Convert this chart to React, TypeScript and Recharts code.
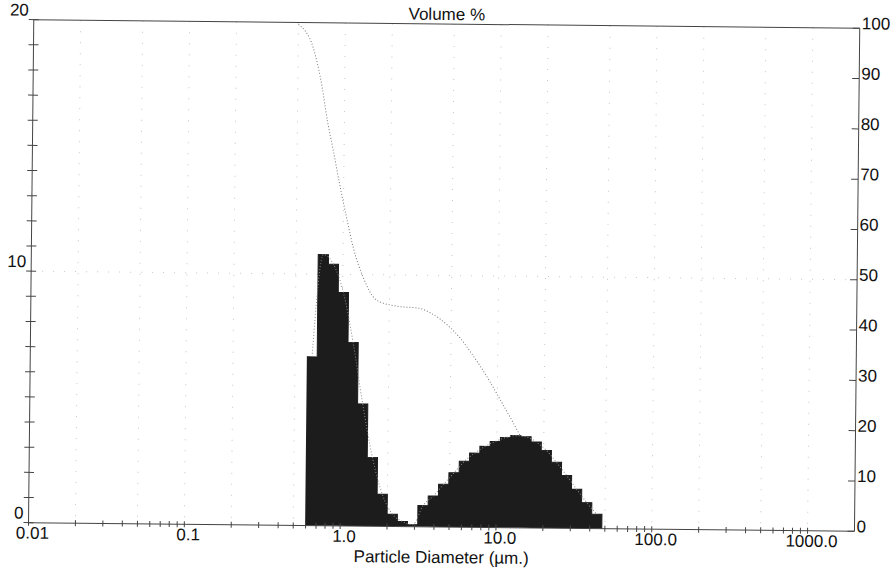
import React from 'react';
import { ComposedChart, Area, Line, XAxis, YAxis, CartesianGrid } from 'recharts';

// channel lower edges (µm) – last value closes the final channel
const binEdges = [
  0.596, 0.694, 0.808, 0.938, 1.092, 1.27, 1.477, 1.719, 1.999, 2.326,
  2.705, 3.146, 3.659, 4.256, 4.95, 5.758, 6.698, 7.791, 9.063, 10.54,
  12.26, 14.27, 16.59, 19.3, 22.44, 26.11, 30.36, 35.32, 41.09, 47.79,
];
// volume % in each channel
const volumePct = [
  6.71, 10.78, 10.4, 9.28, 7.3, 4.86, 2.74, 1.28, 0.49, 0.2,
  0.08, 0.84, 1.23, 1.7, 2.16, 2.62, 2.95, 3.22, 3.42, 3.58,
  3.66, 3.62, 3.42, 3.09, 2.62, 2.1, 1.56, 1.03, 0.57,
];

// cumulative volume % above each diameter
const cumDiameter = [
  0.5, 0.624, 0.717, 0.777, 0.853, 0.951, 1.059, 1.162, 1.355, 1.665,
  2.237, 3.146, 3.659, 4.256, 4.95, 5.758, 6.698, 7.791, 9.063, 10.54,
  12.26, 14.27, 16.59, 19.3, 22.44, 26.11, 30.36, 35.32, 41.09, 47.79,
];
const cumOversize = [
  99.6, 95.0, 87.1, 80.6, 74.6, 67.3, 60.7, 55.4, 49.4, 44.9,
  43.8, 43.4, 42.55, 41.3, 39.6, 37.5, 34.8, 31.9, 28.7, 25.2,
  21.7, 18.0, 14.4, 11.0, 7.9, 5.3, 3.2, 1.6, 0.57, 0,
];

const decades = [0.01, 0.1, 1, 10, 100, 1000];
const decadeLabels = ['0.01', '0.1', '1.0', '10.0', '100.0', '1000.0'];
const minorSteps = [1, 2, 3, 4, 5, 6, 7, 8, 9];
const gridDiameters = [0.02, 0.05, 0.1, 0.2, 0.5, 1, 2, 5, 10, 20, 50, 100, 200, 500, 1000];
const volumeTicks = [0, 1, 2, 3, 4, 5, 6, 7, 8, 9, 10, 11, 12, 13, 14, 15, 16, 17, 18, 19, 20];
const volumeLabels = [0, 10, 20];
const cumulativeTicks = [0, 10, 20, 30, 40, 50, 60, 70, 80, 90, 100];

const logTicks = decades
  .flatMap((d) => minorSteps.map((m) => +(d * m).toPrecision(3)))
  .filter((v) => v <= 1000);

const histogram = [
  ...volumePct.map((v, i) => ({ d: binEdges[i], v })),
  { d: binEdges[binEdges.length - 1], v: 0 },
];
const freqCurve = volumePct.map((v, i) => ({ d: Math.sqrt(binEdges[i] * binEdges[i + 1]), v }));
const cumulative = cumDiameter.map((d, i) => ({ d, c: cumOversize[i] }));

const AXIS = '#444';
const INK = '#111';
const FONT = 17;

const BottomTick = ({ x, y, payload }: any) => {
  const i = decades.indexOf(payload.value);
  return (
    <g>
      <line x1={x} x2={x} y1={y - 3} y2={y + 3} stroke={AXIS} />
      {i >= 0 && (
        <text x={x + 4} y={y + 16} textAnchor="middle" fontSize={FONT} fill={INK}>
          {decadeLabels[i]}
        </text>
      )}
    </g>
  );
};

const TopTick = ({ x, y }: any) => <line x1={x} x2={x} y1={y - 3} y2={y + 3} stroke={AXIS} />;

const LeftTick = ({ x, y, payload }: any) => (
  <g>
    <line x1={x - 5} x2={x + 5} y1={y} y2={y} stroke={AXIS} />
    {volumeLabels.includes(payload.value) && (
      <text x={x - 5} y={y - 4} textAnchor="end" fontSize={FONT} fill={INK}>
        {payload.value}
      </text>
    )}
  </g>
);

const RightTick = ({ x, y, payload }: any) => (
  <g>
    <line x1={x - 7} x2={x} y1={y} y2={y} stroke={AXIS} />
    <text x={x + 2} y={y + 1} textAnchor="start" fontSize={FONT} fill={INK}>
      {payload.value}
    </text>
  </g>
);

export default function App() {
  return (
    <div
      style={{
        position: 'absolute',
        left: 0,
        top: 0,
        background: '#fff',
        fontFamily: '"Liberation Sans", Arial, sans-serif',
        // the printed sheet sits a little askew
        transform: 'rotate(0.6deg)',
        transformOrigin: '447px 287px',
      }}
    >
      <ComposedChart width={895} height={575} margin={{ top: 0, right: 0, bottom: 0, left: 0 }}>
        <CartesianGrid
          xAxisId="b"
          yAxisId="l"
          verticalValues={gridDiameters}
          horizontalValues={[10]}
          stroke="#c4c4c4"
          strokeDasharray="1 10"
        />
        <XAxis
          xAxisId="t"
          orientation="top"
          type="number"
          scale="log"
          domain={[0.01, 2000]}
          allowDataOverflow
          ticks={logTicks}
          interval={0}
          height={24}
          tickSize={0}
          tickMargin={0}
          tick={<TopTick />}
          axisLine={{ stroke: AXIS }}
          label={{ value: 'Volume %', position: 'center', dy: 2, fontSize: FONT, fill: INK }}
        />
        <XAxis
          xAxisId="b"
          dataKey="d"
          type="number"
          scale="log"
          domain={[0.01, 2000]}
          allowDataOverflow
          ticks={logTicks}
          interval={0}
          height={48}
          tickSize={0}
          tickMargin={0}
          tick={<BottomTick />}
          axisLine={{ stroke: AXIS }}
          label={{ value: 'Particle Diameter (µm.)', position: 'center', dy: 6, fontSize: FONT, fill: INK }}
        />
        <YAxis
          yAxisId="l"
          orientation="left"
          type="number"
          domain={[0, 20]}
          allowDataOverflow
          ticks={volumeTicks}
          interval={0}
          width={31}
          tickSize={0}
          tickMargin={0}
          tick={<LeftTick />}
          axisLine={{ stroke: AXIS }}
        />
        <YAxis
          yAxisId="r"
          orientation="right"
          type="number"
          domain={[0, 100]}
          allowDataOverflow
          ticks={cumulativeTicks}
          interval={0}
          width={38}
          tickSize={0}
          tickMargin={0}
          tick={<RightTick />}
          axisLine={{ stroke: AXIS }}
        />
        <Area
          xAxisId="b"
          yAxisId="r"
          data={cumulative}
          dataKey="c"
          type="monotone"
          stroke="#777"
          strokeWidth={1}
          strokeDasharray="1 2"
          fill="none"
          fillOpacity={0}
          dot={false}
          isAnimationActive={false}
        />
        <Area
          xAxisId="b"
          yAxisId="l"
          data={histogram}
          dataKey="v"
          type="stepAfter"
          stroke="#1c1c1c"
          strokeWidth={1}
          fill="#1c1c1c"
          fillOpacity={1}
          isAnimationActive={false}
        />
        <Line
          xAxisId="b"
          yAxisId="l"
          data={freqCurve}
          dataKey="v"
          type="monotone"
          stroke="#8a8a8a"
          strokeWidth={1}
          strokeDasharray="1 2"
          dot={false}
          isAnimationActive={false}
        />
      </ComposedChart>
    </div>
  );
}
